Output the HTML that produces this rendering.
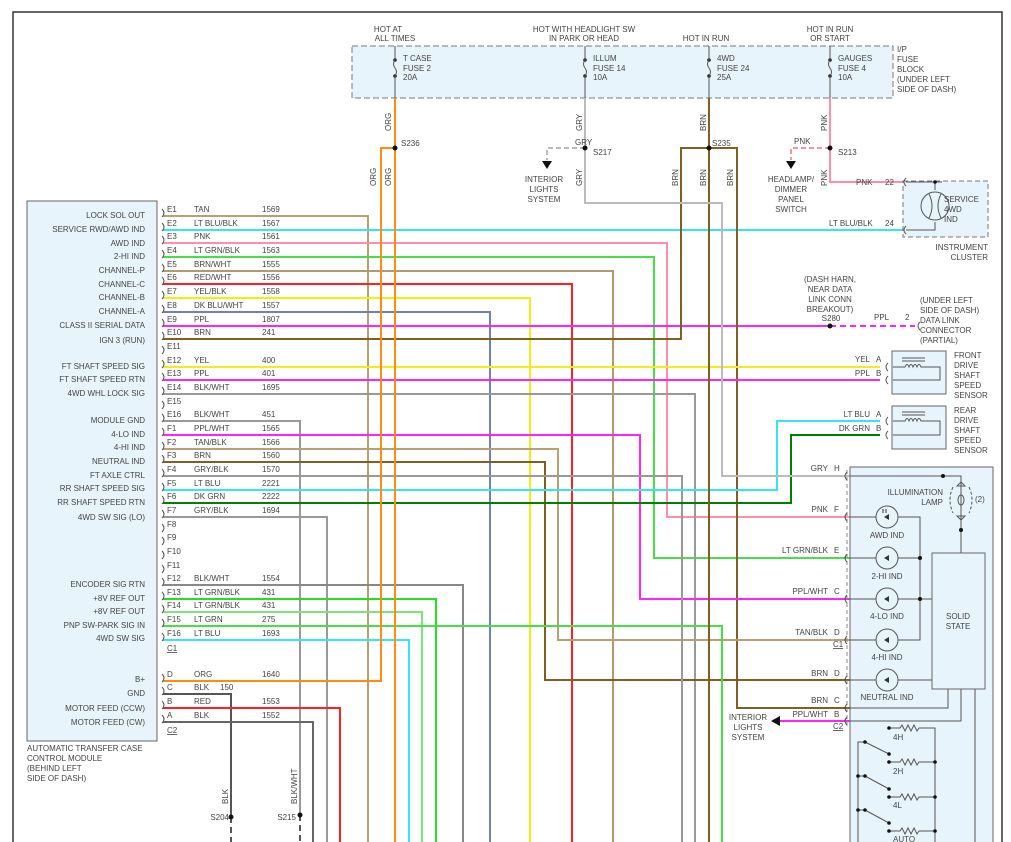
<!DOCTYPE html>
<html><head><meta charset="utf-8">
<style>
html,body{margin:0;padding:0;background:#fff;}
svg{display:block;}
text{font-family:"Liberation Sans",sans-serif;font-size:8px;fill:#444;}
.r{text-anchor:end;}
.m{text-anchor:middle;}
.w{fill:none;stroke-width:2;}
.k{fill:none;stroke:#555;stroke-width:1;}
</style></head><body>
<svg width="1011" height="842" viewBox="0 0 1011 842" xmlns="http://www.w3.org/2000/svg">
<!-- frame -->
<path d="M13,842 V12 H1002 V842" fill="none" stroke="#333" stroke-width="1.5"/>

<!-- fuse block -->
<rect x="352" y="46" width="541" height="52" fill="#e8f4fc" stroke="#777" stroke-dasharray="6,3"/>
<text x="388" y="32" class="m">HOT AT</text><text x="395" y="41" class="m">ALL TIMES</text>
<text x="584" y="32" class="m">HOT WITH HEADLIGHT SW</text><text x="584" y="41" class="m">IN PARK OR HEAD</text>
<text x="706" y="41" class="m">HOT IN RUN</text>
<text x="830" y="32" class="m">HOT IN RUN</text><text x="830" y="41" class="m">OR START</text>
<g fill="#222">
<circle cx="395" cy="60" r="1.8"/><circle cx="395" cy="76" r="1.8"/>
<circle cx="585" cy="60" r="1.8"/><circle cx="585" cy="76" r="1.8"/>
<circle cx="709" cy="60" r="1.8"/><circle cx="709" cy="76" r="1.8"/>
<circle cx="830" cy="60" r="1.8"/><circle cx="830" cy="76" r="1.8"/>
</g>
<g class="k">
<path d="M395,46V60 M395,76V98 M395,60 q-3,4 0,8 q3,4 0,8"/>
<path d="M585,46V60 M585,76V98 M585,60 q-3,4 0,8 q3,4 0,8"/>
<path d="M709,46V60 M709,76V98 M709,60 q-3,4 0,8 q3,4 0,8"/>
<path d="M830,46V60 M830,76V98 M830,60 q-3,4 0,8 q3,4 0,8"/>
</g>
<text x="403" y="61">T CASE</text><text x="403" y="71">FUSE 2</text><text x="403" y="80">20A</text>
<text x="593" y="61">ILLUM</text><text x="593" y="71">FUSE 14</text><text x="593" y="80">10A</text>
<text x="717" y="61">4WD</text><text x="717" y="71">FUSE 24</text><text x="717" y="80">25A</text>
<text x="838" y="61">GAUGES</text><text x="838" y="71">FUSE 4</text><text x="838" y="80">10A</text>
<text x="897" y="52">I/P</text><text x="897" y="62">FUSE</text><text x="897" y="72">BLOCK</text><text x="897" y="82">(UNDER LEFT</text><text x="897" y="92">SIDE OF DASH)</text>

<!-- module box -->
<rect x="27" y="201" width="130" height="540" fill="#e8f4fc" stroke="#666"/>
<text x="27" y="751">AUTOMATIC TRANSFER CASE</text>
<text x="27" y="761">CONTROL MODULE</text>
<text x="27" y="771">(BEHIND LEFT</text>
<text x="27" y="781">SIDE OF DASH)</text>

<!-- wires -->
<g class="w">
<path stroke="#b8a070" d="M163,216 H368 V842"/>
<path stroke="#33e6f0" d="M163,230 H903"/>
<path stroke="#ff8fa8" d="M163,243 H667 V517 H850"/>
<path stroke="#44e044" d="M163,257 H654 V558 H850"/>
<path stroke="#b09a70" d="M163,271 H613 V842"/>
<path stroke="#ff2020" d="M163,284 H572 V842"/>
<path stroke="#f4ee10" d="M163,298 H530 V842"/>
<path stroke="#7080b8" d="M163,312 H490 V842"/>
<path stroke="#ff22ff" d="M163,326 H830"/>
<path stroke="#ff22ff" stroke-dasharray="6,4" d="M830,326 H915"/>
<path stroke="#806020" d="M163,339 H681 V148 H737 V708 H850"/>
<path stroke="#f4ee10" d="M163,367 H880"/>
<path stroke="#ff22ff" d="M163,380 H880"/>
<path stroke="#999" d="M163,394 H695 V842"/>
<path stroke="#999" d="M163,421 H300 V815"/>
<path stroke="#555" stroke-dasharray="6,4" d="M300,815 V842"/>
<path stroke="#ff22ff" d="M163,435 H640 V599 H850"/>
<path stroke="#b8a070" d="M163,449 H558 V640 H850"/>
<path stroke="#806020" d="M163,462 H545 V680 H850"/>
<path stroke="#999" d="M163,476 H682 V842"/>
<path stroke="#33e6f0" d="M163,490 H777 V421 H880"/>
<path stroke="#008000" d="M163,503 H791 V435 H880"/>
<path stroke="#999" d="M163,517 H327 V842"/>
<path stroke="#888" d="M163,585 H463 V842"/>
<path stroke="#22e022" d="M163,599 H436 V842"/>
<path stroke="#77e877" d="M163,612 H422 V842"/>
<path stroke="#44e044" d="M163,626 H722 V842"/>
<path stroke="#33e6f0" d="M163,640 H409 V842"/>
<path stroke="#ff8c10" d="M163,681 H381 V148 H395"/>
<path stroke="#ff8c10" d="M395,98 V842"/>
<path stroke="#555" d="M163,694 H231 V817"/>
<path stroke="#555" stroke-dasharray="6,4" d="M231,817 V842"/>
<path stroke="#ff2020" d="M163,708 H340 V842"/>
<path stroke="#666" d="M163,722 H313 V842"/>
<path stroke="#806020" d="M709,98 V842"/>
<path stroke="#bbb" d="M585,98 V203 H722 V476 H850"/>
<path stroke="#bbb" stroke-dasharray="5,3" d="M585,148 H547 V160"/>
<path stroke="#ff8fa8" d="M830,98 V182 H903"/>
<path stroke="#ff8fa8" stroke-dasharray="5,3" d="M830,148 H791 V160"/>
<path stroke="#ff22ff" d="M850,721 H780"/>
</g>
<!-- splices -->
<g fill="#111">
<circle cx="395" cy="148" r="2.5"/><circle cx="585" cy="148" r="2.5"/>
<circle cx="709" cy="148" r="2.5"/><circle cx="830" cy="148" r="2.5"/>
<circle cx="830" cy="326" r="2.5"/><circle cx="231" cy="817" r="2.5"/><circle cx="300" cy="815" r="2.5"/>
<path d="M542,161 h10 l-5,8 z"/><path d="M786,161 h10 l-5,8 z"/><path d="M771,721 l9,-5 v10 z"/>
</g>
<text x="401" y="146">S236</text><text x="593" y="155">S217</text><text x="712" y="146">S235</text><text x="838" y="155">S213</text>
<text x="575" y="145">GRY</text><text x="794" y="144">PNK</text>
<text x="544" y="182" class="m">INTERIOR</text><text x="544" y="192" class="m">LIGHTS</text><text x="544" y="202" class="m">SYSTEM</text>
<text x="791" y="182" class="m">HEADLAMP/</text><text x="791" y="192" class="m">DIMMER</text><text x="791" y="202" class="m">PANEL</text><text x="791" y="212" class="m">SWITCH</text>
<text x="748" y="720" class="m">INTERIOR</text><text x="748" y="730" class="m">LIGHTS</text><text x="748" y="740" class="m">SYSTEM</text>
<!-- vertical labels -->
<g>
<text transform="translate(391,131) rotate(-90)">ORG</text>
<text transform="translate(376,186) rotate(-90)">ORG</text>
<text transform="translate(391,186) rotate(-90)">ORG</text>
<text transform="translate(582,131) rotate(-90)">GRY</text>
<text transform="translate(582,186) rotate(-90)">GRY</text>
<text transform="translate(706,131) rotate(-90)">BRN</text>
<text transform="translate(678,186) rotate(-90)">BRN</text>
<text transform="translate(706,186) rotate(-90)">BRN</text>
<text transform="translate(733,186) rotate(-90)">BRN</text>
<text transform="translate(827,131) rotate(-90)">PNK</text>
<text transform="translate(827,186) rotate(-90)">PNK</text>
<text transform="translate(228,804) rotate(-90)">BLK</text>
<text transform="translate(297,804) rotate(-90)">BLK/WHT</text>
</g>
<text x="229" y="820" class="r">S204</text><text x="296" y="820" class="r">S215</text>

<!-- module pin labels -->
<g>
<text x="145" y="218" class="r">LOCK SOL OUT</text>
<text x="145" y="232" class="r">SERVICE RWD/AWD IND</text>
<text x="145" y="246" class="r">AWD IND</text>
<text x="145" y="259" class="r">2-HI IND</text>
<text x="145" y="273" class="r">CHANNEL-P</text>
<text x="145" y="287" class="r">CHANNEL-C</text>
<text x="145" y="300" class="r">CHANNEL-B</text>
<text x="145" y="314" class="r">CHANNEL-A</text>
<text x="145" y="328" class="r">CLASS II SERIAL DATA</text>
<text x="145" y="343" class="r">IGN 3 (RUN)</text>
<text x="145" y="369" class="r">FT SHAFT SPEED SIG</text>
<text x="145" y="382" class="r">FT SHAFT SPEED RTN</text>
<text x="145" y="396" class="r">4WD WHL LOCK SIG</text>
<text x="145" y="423" class="r">MODULE GND</text>
<text x="145" y="437" class="r">4-LO IND</text>
<text x="145" y="450" class="r">4-HI IND</text>
<text x="145" y="464" class="r">NEUTRAL IND</text>
<text x="145" y="478" class="r">FT AXLE CTRL</text>
<text x="145" y="491" class="r">RR SHAFT SPEED SIG</text>
<text x="145" y="505" class="r">RR SHAFT SPEED RTN</text>
<text x="145" y="520" class="r">4WD SW SIG (LO)</text>
<text x="145" y="587" class="r">ENCODER SIG RTN</text>
<text x="145" y="601" class="r">+8V REF OUT</text>
<text x="145" y="614" class="r">+8V REF OUT</text>
<text x="145" y="628" class="r">PNP SW-PARK SIG IN</text>
<text x="145" y="641" class="r">4WD SW SIG</text>
<text x="145" y="682" class="r">B+</text>
<text x="145" y="696" class="r">GND</text>
<text x="145" y="711" class="r">MOTOR FEED (CCW)</text>
<text x="145" y="725" class="r">MOTOR FEED (CW)</text>
</g>
<!-- pin entries -->
<g class="k">
<path d="M162,209 q4,4 0,8 M162,223 q4,4 0,8 M162,236 q4,4 0,8 M162,250 q4,4 0,8 M162,264 q4,4 0,8 M162,277 q4,4 0,8 M162,291 q4,4 0,8 M162,305 q4,4 0,8 M162,319 q4,4 0,8 M162,332 q4,4 0,8 M162,346 q4,4 0,8 M162,360 q4,4 0,8 M162,373 q4,4 0,8 M162,387 q4,4 0,8 M162,401 q4,4 0,8 M162,414 q4,4 0,8 M162,428 q4,4 0,8 M162,442 q4,4 0,8 M162,455 q4,4 0,8 M162,469 q4,4 0,8 M162,483 q4,4 0,8 M162,496 q4,4 0,8 M162,510 q4,4 0,8 M162,524 q4,4 0,8 M162,537 q4,4 0,8 M162,551 q4,4 0,8 M162,565 q4,4 0,8 M162,578 q4,4 0,8 M162,592 q4,4 0,8 M162,605 q4,4 0,8 M162,619 q4,4 0,8 M162,633 q4,4 0,8 M162,674 q4,4 0,8 M162,687 q4,4 0,8 M162,701 q4,4 0,8 M162,715 q4,4 0,8"/>
</g>
<g>
<text x="167" y="212">E1</text><text x="194" y="212">TAN</text><text x="262" y="212">1569</text>
<text x="167" y="226">E2</text><text x="194" y="226">LT BLU/BLK</text><text x="262" y="226">1567</text>
<text x="167" y="239">E3</text><text x="194" y="239">PNK</text><text x="262" y="239">1561</text>
<text x="167" y="253">E4</text><text x="194" y="253">LT GRN/BLK</text><text x="262" y="253">1563</text>
<text x="167" y="267">E5</text><text x="194" y="267">BRN/WHT</text><text x="262" y="267">1555</text>
<text x="167" y="280">E6</text><text x="194" y="280">RED/WHT</text><text x="262" y="280">1556</text>
<text x="167" y="294">E7</text><text x="194" y="294">YEL/BLK</text><text x="262" y="294">1558</text>
<text x="167" y="308">E8</text><text x="194" y="308">DK BLU/WHT</text><text x="262" y="308">1557</text>
<text x="167" y="322">E9</text><text x="194" y="322">PPL</text><text x="262" y="322">1807</text>
<text x="167" y="335">E10</text><text x="194" y="335">BRN</text><text x="262" y="335">241</text>
<text x="167" y="349">E11</text>
<text x="167" y="363">E12</text><text x="194" y="363">YEL</text><text x="262" y="363">400</text>
<text x="167" y="376">E13</text><text x="194" y="376">PPL</text><text x="262" y="376">401</text>
<text x="167" y="390">E14</text><text x="194" y="390">BLK/WHT</text><text x="262" y="390">1695</text>
<text x="167" y="404">E15</text>
<text x="167" y="417">E16</text><text x="194" y="417">BLK/WHT</text><text x="262" y="417">451</text>
<text x="167" y="431">F1</text><text x="194" y="431">PPL/WHT</text><text x="262" y="431">1565</text>
<text x="167" y="445">F2</text><text x="194" y="445">TAN/BLK</text><text x="262" y="445">1566</text>
<text x="167" y="458">F3</text><text x="194" y="458">BRN</text><text x="262" y="458">1560</text>
<text x="167" y="472">F4</text><text x="194" y="472">GRY/BLK</text><text x="262" y="472">1570</text>
<text x="167" y="486">F5</text><text x="194" y="486">LT BLU</text><text x="262" y="486">2221</text>
<text x="167" y="499">F6</text><text x="194" y="499">DK GRN</text><text x="262" y="499">2222</text>
<text x="167" y="513">F7</text><text x="194" y="513">GRY/BLK</text><text x="262" y="513">1694</text>
<text x="167" y="527">F8</text><text x="167" y="540">F9</text><text x="167" y="554">F10</text><text x="167" y="568">F11</text>
<text x="167" y="581">F12</text><text x="194" y="581">BLK/WHT</text><text x="262" y="581">1554</text>
<text x="167" y="595">F13</text><text x="194" y="595">LT GRN/BLK</text><text x="262" y="595">431</text>
<text x="167" y="608">F14</text><text x="194" y="608">LT GRN/BLK</text><text x="262" y="608">431</text>
<text x="167" y="622">F15</text><text x="194" y="622">LT GRN</text><text x="262" y="622">275</text>
<text x="167" y="636">F16</text><text x="194" y="636">LT BLU</text><text x="262" y="636">1693</text>
<text x="167" y="651" text-decoration="underline">C1</text>
<text x="167" y="677">D</text><text x="194" y="677">ORG</text><text x="262" y="677">1640</text>
<text x="167" y="690">C</text><text x="194" y="690">BLK</text><text x="220" y="690">150</text>
<text x="167" y="704">B</text><text x="194" y="704">RED</text><text x="262" y="704">1553</text>
<text x="167" y="718">A</text><text x="194" y="718">BLK</text><text x="262" y="718">1552</text>
<text x="167" y="733" text-decoration="underline">C2</text>
</g>

<!-- data link -->
<text x="830" y="282" class="m">(DASH HARN,</text><text x="830" y="292" class="m">NEAR DATA</text><text x="830" y="302" class="m">LINK CONN</text><text x="830" y="312" class="m">BREAKOUT)</text><text x="831" y="321" class="m">S280</text>
<text x="874" y="320">PPL</text><text x="905" y="320">2</text>
<path class="k" d="M920,322 q-4,4 0,8"/>
<text x="920" y="303">(UNDER LEFT</text><text x="920" y="313">SIDE OF DASH)</text><text x="920" y="323">DATA LINK</text><text x="920" y="333">CONNECTOR</text><text x="920" y="343">(PARTIAL)</text>

<!-- instrument cluster -->
<rect x="903" y="181" width="85" height="56" fill="#e8f4fc" stroke="#777" stroke-dasharray="5,3"/>
<text x="856" y="185">PNK</text><text x="885" y="185">22</text>
<text x="829" y="226">LT BLU/BLK</text><text x="885" y="226">24</text>
<path class="k" d="M906,178 q-4,4 0,8 M906,226 q-4,4 0,8 M906,182 H935 M935,182 V190 M935,182 H942 M906,230 H935 V222"/>
<circle cx="935" cy="206" r="14" fill="none" stroke="#555"/>
<path class="k" d="M929,194 q6,12 0,24 M941,194 q-6,12 0,24"/>
<circle cx="935" cy="182" r="1.8" fill="#111"/>
<text x="944" y="202">SERVICE</text><text x="944" y="212">4WD</text><text x="944" y="222">IND</text>
<text x="988" y="250" class="r">INSTRUMENT</text><text x="988" y="260" class="r">CLUSTER</text>

<!-- front sensor -->
<rect x="892" y="351" width="54" height="43" fill="#e8f4fc" stroke="#666"/>
<path class="k" d="M893,367 H905 q2,-5 4,0 q2,-5 4,0 q2,-5 4,0 q2,-5 4,0 H940 V380 H893 M902,358 H925 M902,361 H925"/>
<path class="k" d="M888,363 q-4,4 0,8 M888,376 q-4,4 0,8"/>
<text x="870" y="362" class="r">YEL</text><text x="876" y="362">A</text>
<text x="870" y="376" class="r">PPL</text><text x="876" y="376">B</text>
<text x="954" y="358">FRONT</text><text x="954" y="368">DRIVE</text><text x="954" y="378">SHAFT</text><text x="954" y="388">SPEED</text><text x="954" y="398">SENSOR</text>
<!-- rear sensor -->
<rect x="892" y="406" width="54" height="43" fill="#e8f4fc" stroke="#666"/>
<path class="k" d="M893,421 H905 q2,-5 4,0 q2,-5 4,0 q2,-5 4,0 q2,-5 4,0 H940 V435 H893 M902,412 H925 M902,415 H925"/>
<path class="k" d="M888,417 q-4,4 0,8 M888,431 q-4,4 0,8"/>
<text x="870" y="417" class="r">LT BLU</text><text x="876" y="417">A</text>
<text x="870" y="431" class="r">DK GRN</text><text x="876" y="431">B</text>
<text x="954" y="413">REAR</text><text x="954" y="423">DRIVE</text><text x="954" y="433">SHAFT</text><text x="954" y="443">SPEED</text><text x="954" y="453">SENSOR</text>

<!-- main cluster -->
<rect x="850" y="467" width="143" height="380" fill="#e8f4fc" stroke="#666"/>
<path d="M847,470 V728" stroke="#888" stroke-dasharray="4,3" fill="none"/>
<g class="k">
<path d="M847,472 q-4,4 0,8 M847,513 q-4,4 0,8 M847,554 q-4,4 0,8 M847,595 q-4,4 0,8 M847,636 q-4,4 0,8 M847,676 q-4,4 0,8 M847,704 q-4,4 0,8 M847,717 q-4,4 0,8"/>
<path d="M850,476 H961 V553 M850,517 H920 V640 H850 M850,558 H920 M850,599 H932 M850,680 H932 M850,708 H948 V689 M850,721 H961 V689 M975,689 V842"/>
</g>
<rect x="932" y="553" width="53" height="136" fill="#e8f4fc" stroke="#666"/>
<text x="958" y="619" class="m">SOLID</text><text x="958" y="629" class="m">STATE</text>
<g fill="#111"><circle cx="943" cy="476" r="2"/><circle cx="961" cy="530" r="2"/><circle cx="920" cy="558" r="2"/><circle cx="920" cy="599" r="2"/></g>
<path class="k" d="M961,482 l-4,4 h8 z M961,520 l-4,-4 h8 z"/>
<ellipse cx="961" cy="500" rx="3" ry="5" fill="none" stroke="#555"/>
<path class="k" d="M953,487 q-6,13 0,26 M969,487 q6,13 0,26" stroke-dasharray="3,2"/>
<text x="943" y="495" class="r">ILLUMINATION</text><text x="943" y="505" class="r">LAMP</text><text x="975" y="502">(2)</text>
<g>
<circle cx="887" cy="517" r="11" fill="#e8f4fc" stroke="#555"/>
<circle cx="887" cy="558" r="11" fill="#e8f4fc" stroke="#555"/>
<circle cx="887" cy="599" r="11" fill="#e8f4fc" stroke="#555"/>
<circle cx="887" cy="640" r="11" fill="#e8f4fc" stroke="#555"/>
<circle cx="887" cy="680" r="11" fill="#e8f4fc" stroke="#555"/>
</g>
<g fill="#333">
<path d="M884,517 l5,-3 v6 z M884,558 l5,-3 v6 z M884,599 l5,-3 v6 z M884,640 l5,-3 v6 z M884,680 l5,-3 v6 z"/>
<path d="M883,509 v4 M886,509 v4" stroke="#333"/>
</g>
<text x="887" y="538" class="m">AWD IND</text><text x="887" y="579" class="m">2-HI IND</text>
<text x="887" y="619" class="m">4-LO IND</text><text x="887" y="660" class="m">4-HI IND</text>
<text x="887" y="700" class="m">NEUTRAL IND</text>
<text x="828" y="471" class="r">GRY</text><text x="834" y="471">H</text>
<text x="828" y="512" class="r">PNK</text><text x="834" y="512">F</text>
<text x="828" y="553" class="r">LT GRN/BLK</text><text x="834" y="553">E</text>
<text x="828" y="594" class="r">PPL/WHT</text><text x="834" y="594">C</text>
<text x="828" y="635" class="r">TAN/BLK</text><text x="834" y="635">D</text>
<text x="833" y="647" text-decoration="underline">C1</text>
<text x="828" y="676" class="r">BRN</text><text x="834" y="676">D</text>
<text x="828" y="703" class="r">BRN</text><text x="834" y="703">C</text>
<text x="828" y="717" class="r">PPL/WHT</text><text x="834" y="717">B</text>
<text x="833" y="729" text-decoration="underline">C2</text>
<!-- switch ladder -->
<g class="k">
<path d="M889,728 H900 l2,-3 l3,6 l3,-6 l3,6 l3,-6 l3,6 l2,-3 H935 V842"/>
<path d="M889,762 H900 l2,-3 l3,6 l3,-6 l3,6 l3,-6 l3,6 l2,-3 H935"/>
<path d="M889,797 H900 l2,-3 l3,6 l3,-6 l3,6 l3,-6 l3,6 l2,-3 H935"/>
<path d="M889,831 H900 l2,-3 l3,6 l3,-6 l3,6 l3,-6 l3,6 l2,-3 H935"/>
<path d="M865,742 H858 V842 M865,742 L889,754 M865,776 L889,789 M858,776 H865 M865,810 L889,823 M858,810 H865"/>
</g>
<g fill="#111">
<circle cx="889" cy="728" r="1.8"/><circle cx="889" cy="762" r="1.8"/><circle cx="889" cy="797" r="1.8"/><circle cx="889" cy="831" r="1.8"/>
<circle cx="935" cy="762" r="1.8"/><circle cx="935" cy="797" r="1.8"/><circle cx="935" cy="831" r="1.8"/>
<circle cx="865" cy="742" r="1.8"/><circle cx="889" cy="754" r="1.8"/><circle cx="865" cy="776" r="1.8"/><circle cx="858" cy="776" r="1.8"/><circle cx="889" cy="789" r="1.8"/>
<circle cx="865" cy="810" r="1.8"/><circle cx="858" cy="810" r="1.8"/><circle cx="889" cy="823" r="1.8"/>
</g>
<text x="893" y="740">4H</text><text x="893" y="774">2H</text><text x="893" y="808">4L</text><text x="893" y="842">AUTO</text>
</svg>
</body></html>
